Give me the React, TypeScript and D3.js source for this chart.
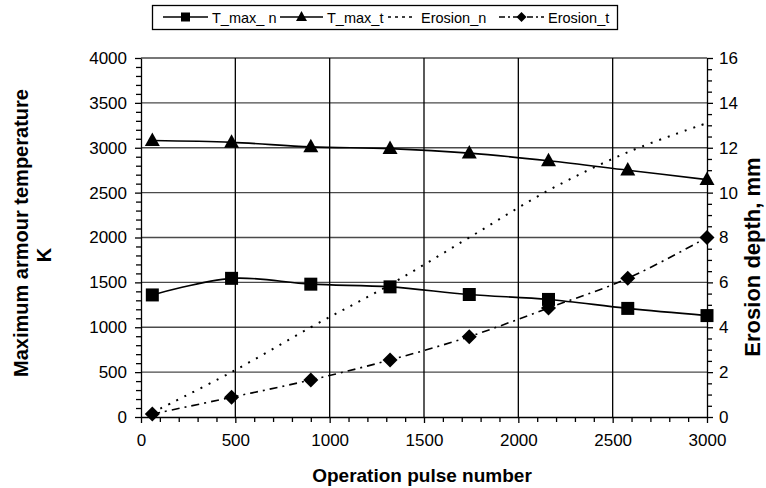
import { useEffect, useRef } from 'react';
import * as d3 from 'd3';

// pulse numbers where the values were taken
const pulses = [60, 480, 900, 1320, 1740, 2160, 2580, 3000];
// maximum armour temperature, K
const tMaxN = [1360, 1545, 1480, 1450, 1365, 1310, 1210, 1130];
const tMaxT = [3080, 3060, 3010, 2990, 2940, 2855, 2750, 2645];
// erosion depth, mm
const erosionN = [0.2, 2.0, 4.0, 5.9, 8.0, 10.1, 11.8, 13.1];
const erosionT = [0.13, 0.88, 1.65, 2.54, 3.58, 4.86, 6.18, 8.0];

const xTicks = [0, 500, 1000, 1500, 2000, 2500, 3000];
const leftTicks = [0, 500, 1000, 1500, 2000, 2500, 3000, 3500, 4000];
const rightTicks = [0, 2, 4, 6, 8, 10, 12, 14, 16];

const legendNames = ['T_max_ n', 'T_max_t', 'Erosion_n', 'Erosion_t'];

const FONT = '"Liberation Sans", Arial, sans-serif';

const squarePath = (s) => `M${-s / 2},${-s / 2}h${s}v${s}h${-s}Z`;
const trianglePath = (s) => {
  const h = s * 0.9;
  return `M0,${-h * 0.6}L${s / 2},${h * 0.4}L${-s / 2},${h * 0.4}Z`;
};
const diamondPath = (s) => `M0,${-s / 2}L${s / 2},0L0,${s / 2}L${-s / 2},0Z`;

function App() {
  const svgRef = useRef(null);

  useEffect(() => {
    const svg = d3.select(svgRef.current);
    svg.selectAll('*').remove();

    const left = 141;
    const right = 707;
    const top = 58;
    const bottom = 417;

    const x = d3.scaleLinear().domain([0, 3000]).range([left, right]);
    const yL = d3.scaleLinear().domain([0, 4000]).range([bottom, top]);
    const yR = d3.scaleLinear().domain([0, 16]).range([bottom, top]);

    // grid
    const grid = svg.append('g');
    grid
      .selectAll('line.h')
      .data(leftTicks.slice(1))
      .enter()
      .append('line')
      .attr('x1', left)
      .attr('x2', right)
      .attr('y1', (d) => yL(d))
      .attr('y2', (d) => yL(d))
      .attr('stroke', '#4a4a4a')
      .attr('stroke-width', 1.3);
    grid
      .selectAll('line.v')
      .data(xTicks.slice(1, -1))
      .enter()
      .append('line')
      .attr('x1', (d) => x(d))
      .attr('x2', (d) => x(d))
      .attr('y1', top)
      .attr('y2', bottom)
      .attr('stroke', '#000')
      .attr('stroke-width', 1.3);

    const styleAxis = (g) => {
      g.selectAll('path').attr('stroke', '#000').attr('stroke-width', 1.3);
      g.selectAll('line').attr('stroke', '#000').attr('stroke-width', 1.3);
      g.selectAll('text')
        .attr('font-family', FONT)
        .attr('font-size', 17)
        .attr('fill', '#000');
    };

    const minorX = d3.range(0, 3001, 100).filter((d) => d % 500 !== 0);
    const minorL = d3.range(0, 4001, 100).filter((d) => d % 500 !== 0);
    const minorR = d3.range(0, 16.01, 0.5).filter((d) => d % 2 !== 0);
    const fmt = d3.format('d');

    svg
      .append('g')
      .attr('transform', `translate(0,${bottom})`)
      .call(d3.axisBottom(x).tickValues(minorX).tickSize(5).tickFormat(() => ''))
      .call((g) => g.select('.domain').remove())
      .call(styleAxis);
    svg
      .append('g')
      .attr('transform', `translate(0,${bottom})`)
      .call(d3.axisBottom(x).tickValues(xTicks).tickSize(6).tickSizeOuter(0).tickPadding(11).tickFormat(fmt))
      .call(styleAxis);

    svg
      .append('g')
      .attr('transform', `translate(${left},0)`)
      .call(d3.axisLeft(yL).tickValues(minorL).tickSize(5).tickFormat(() => ''))
      .call((g) => g.select('.domain').remove())
      .call(styleAxis);
    svg
      .append('g')
      .attr('transform', `translate(${left},0)`)
      .call(d3.axisLeft(yL).tickValues(leftTicks).tickSize(6).tickSizeOuter(0).tickPadding(8).tickFormat(fmt))
      .call(styleAxis);

    svg
      .append('g')
      .attr('transform', `translate(${right},0)`)
      .call(d3.axisRight(yR).tickValues(minorR).tickSize(5).tickFormat(() => ''))
      .call((g) => g.select('.domain').remove())
      .call(styleAxis);
    svg
      .append('g')
      .attr('transform', `translate(${right},0)`)
      .call(d3.axisRight(yR).tickValues(rightTicks).tickSize(6).tickSizeOuter(0).tickPadding(6).tickFormat(fmt))
      .call(styleAxis);

    // series
    const curve = d3.curveCardinal.tension(0);
    const lineL = d3.line().x((d) => x(d[0])).y((d) => yL(d[1])).curve(curve);
    const lineR = d3.line().x((d) => x(d[0])).y((d) => yR(d[1])).curve(curve);
    const zip = (vals) => pulses.map((p, i) => [p, vals[i]]);

    const series = [
      { data: zip(tMaxN), line: lineL, y: yL, dash: null, marker: squarePath(13) },
      { data: zip(tMaxT), line: lineL, y: yL, dash: null, marker: trianglePath(15) },
      { data: zip(erosionN), line: lineR, y: yR, dash: '2,7', marker: null },
      { data: zip(erosionT), line: lineR, y: yR, dash: '8,5,2,5', marker: diamondPath(15) },
    ];

    series.forEach((s) => {
      svg
        .append('path')
        .attr('d', s.line(s.data))
        .attr('fill', 'none')
        .attr('stroke', '#000')
        .attr('stroke-width', s.dash === '2,7' ? 2 : 1.6)
        .attr('stroke-dasharray', s.dash);
      if (s.marker) {
        svg
          .append('g')
          .selectAll('path')
          .data(s.data)
          .enter()
          .append('path')
          .attr('transform', (d) => `translate(${x(d[0])},${s.y(d[1])})`)
          .attr('d', s.marker)
          .attr('fill', '#000');
      }
    });

    // axis titles
    const boldText = (sel) =>
      sel.attr('text-anchor', 'middle').attr('font-family', FONT).attr('font-weight', 'bold');

    svg
      .append('text')
      .attr('transform', `translate(28,233) rotate(-90)`)
      .call(boldText)
      .attr('font-size', 20)
      .text('Maximum armour temperature');
    svg
      .append('text')
      .attr('transform', `translate(51,255) rotate(-90)`)
      .call(boldText)
      .attr('font-size', 20)
      .text('K');

    svg
      .append('text')
      .attr('transform', `translate(760,257) rotate(-90)`)
      .call(boldText)
      .attr('font-size', 22)
      .text('Erosion depth, mm');

    svg
      .append('text')
      .attr('x', 422)
      .attr('y', 482)
      .call(boldText)
      .attr('font-size', 19)
      .text('Operation pulse number');

    // legend
    const leg = svg.append('g');
    leg
      .append('rect')
      .attr('x', 152.5)
      .attr('y', 5.5)
      .attr('width', 465)
      .attr('height', 24)
      .attr('fill', '#fff')
      .attr('stroke', '#000')
      .attr('stroke-width', 1.3);
    const items = [
      { x0: 163, x1: 208, tx: 212, dash: null, marker: squarePath(9) },
      { x0: 280, x1: 323, tx: 327, dash: null, marker: trianglePath(11) },
      { x0: 388, x1: 414, tx: 421, dash: '3,4', marker: null },
      { x0: 499, x1: 544, tx: 548, dash: '6,3,2,3', marker: diamondPath(10) },
    ];
    items.forEach((it, i) => {
      leg
        .append('line')
        .attr('x1', it.x0)
        .attr('x2', it.x1)
        .attr('y1', 17)
        .attr('y2', 17)
        .attr('stroke', '#000')
        .attr('stroke-width', 1.6)
        .attr('stroke-dasharray', it.dash);
      if (it.marker) {
        leg
          .append('path')
          .attr('transform', `translate(${(it.x0 + it.x1) / 2},17)`)
          .attr('d', it.marker)
          .attr('fill', '#000');
      }
      leg
        .append('text')
        .attr('x', it.tx)
        .attr('y', 22.5)
        .attr('font-family', FONT)
        .attr('font-size', 14.5)
        .text(legendNames[i]);
    });
  }, []);

  return (
    <div>
      <style>{'body{margin:0}'}</style>
      <svg ref={svgRef} width={766} height={488} style={{ display: 'block' }} />
    </div>
  );
}

export default App;
